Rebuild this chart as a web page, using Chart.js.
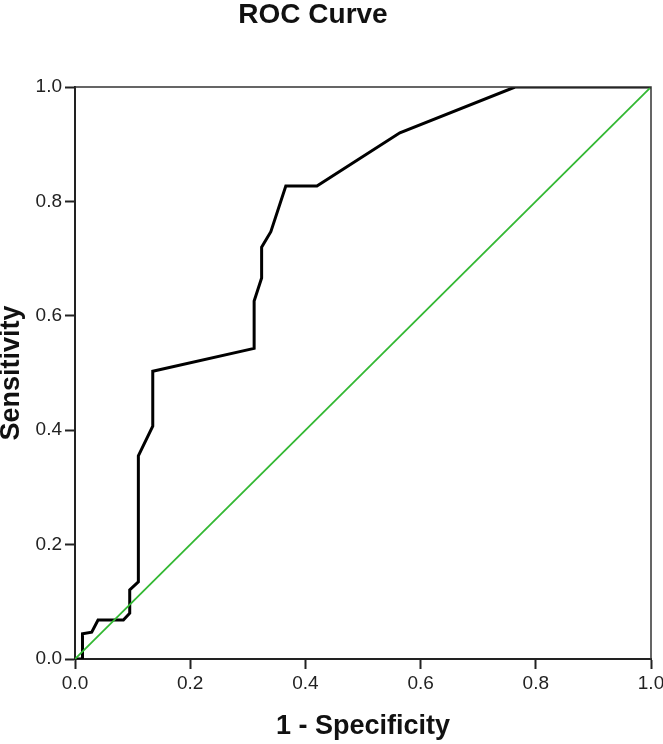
<!DOCTYPE html>
<html>
<head>
<meta charset="utf-8">
<script src="https://cdn.jsdelivr.net/npm/chart.js@4"></script>
<style>
  body { margin: 0; background: #fff; }
  #wrap { position: relative; width: 663px; height: 744px; }
  #title {
    position: absolute; left: 0; top: 0; width: 626px;
    text-align: center; font: bold 28px "Liberation Sans", Arial, sans-serif;
    line-height: 27px; color: #111;
  }
</style>
</head>
<body>
<div id="wrap">
  <canvas id="rocChart" width="663" height="744"></canvas>
  <div id="title">ROC Curve</div>
</div>
<script>
// ROC curve points
const fpr = [0, 0.013, 0.013, 0.029, 0.040, 0.084, 0.095, 0.095, 0.110, 0.110, 0.135, 0.135,
  0.311, 0.311, 0.324, 0.324, 0.340, 0.366, 0.420, 0.564, 0.764, 1.0];
const tpr = [0, 0, 0.044, 0.047, 0.068, 0.068, 0.080, 0.121, 0.135, 0.355, 0.407, 0.503,
  0.543, 0.626, 0.666, 0.720, 0.747, 0.827, 0.827, 0.920, 1.0, 1.0];

// reference (chance) line
const refX = [0, 1];
const refY = [0, 1];

const tickValues = [0, 0.2, 0.4, 0.6, 0.8, 1.0];

const toPoints = (xs, ys) => xs.map((x, i) => ({ x: x, y: ys[i] }));

// top and right sides of the frame
const framePlugin = {
  id: 'frame',
  afterDatasetsDraw(chart) {
    const { ctx, chartArea: a } = chart;
    ctx.save();
    ctx.strokeStyle = '#333';
    ctx.lineWidth = 1.5;
    ctx.beginPath();
    ctx.moveTo(a.left, a.top);
    ctx.lineTo(a.right, a.top);
    ctx.lineTo(a.right, a.bottom);
    ctx.stroke();
    ctx.restore();
  }
};

const tickFont = { family: '"Liberation Sans", Arial, sans-serif', size: 19 };
const titleFont = { family: '"Liberation Sans", Arial, sans-serif', size: 27, weight: 'bold', lineHeight: 1 };

function axis(title, pos) {
  return {
    type: 'linear',
    position: pos,
    min: 0,
    max: 1,
    afterBuildTicks: scale => { scale.ticks = tickValues.map(v => ({ value: v })); },
    ticks: {
      color: '#222',
      font: tickFont,
      padding: 3,
      callback: v => Number(v).toFixed(1)
    },
    grid: {
      drawOnChartArea: false,
      drawTicks: true,
      tickLength: 10,
      tickColor: '#222',
      tickWidth: 2
    },
    border: { display: true, color: '#222', width: 2 },
    title: {
      display: true,
      text: title,
      color: '#111',
      font: pos === 'left' ? Object.assign({}, titleFont, { lineHeight: 0.85 }) : titleFont,
      padding: pos === 'left' ? { top: 0, bottom: 0 } : { top: 0, bottom: 3.5 }
    },
    afterFit: scale => {
      if (pos === 'left') {
        scale.width = 75;
      } else {
        scale.height = 85;
        scale.paddingRight = 12;
        scale.paddingLeft = 0;
      }
    }
  };
}

new Chart(document.getElementById('rocChart'), {
  type: 'line',
  data: {
    datasets: [
      {
        label: 'Reference Line',
        data: toPoints(refX, refY),
        borderColor: '#33b833',
        borderWidth: 1.8,
        pointRadius: 0,
        order: 0
      },
      {
        label: 'ROC',
        data: toPoints(fpr, tpr),
        borderColor: '#000',
        borderWidth: 3,
        pointRadius: 0,
        tension: 0,
        order: 1
      }
    ]
  },
  options: {
    responsive: false,
    animation: false,
    layout: { padding: { top: 87, right: 12, left: 0, bottom: 0 } },
    plugins: {
      legend: { display: false },
      tooltip: { enabled: false }
    },
    scales: {
      x: axis('1 - Specificity', 'bottom'),
      y: axis('Sensitivity', 'left')
    }
  },
  plugins: [framePlugin]
});
</script>
</body>
</html>
